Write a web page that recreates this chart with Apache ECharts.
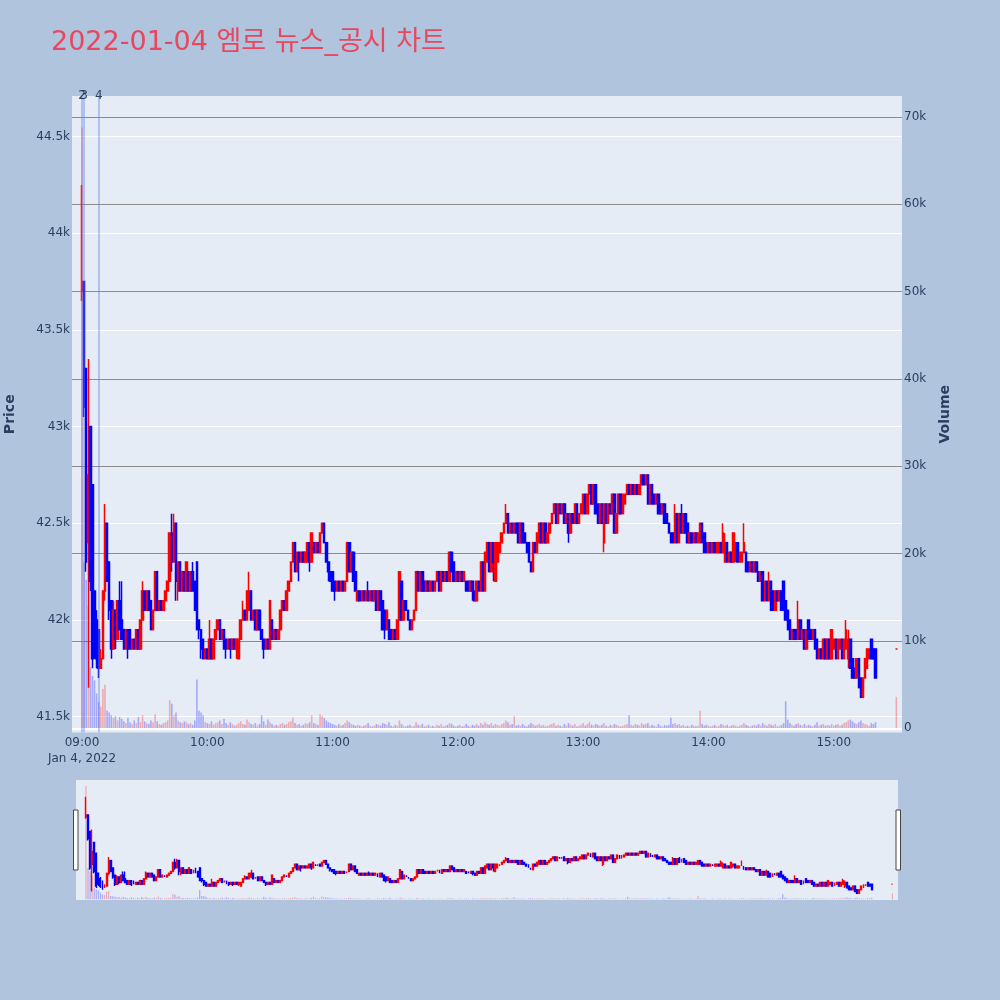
<!DOCTYPE html>
<html>
<head>
<meta charset="utf-8">
<script src="https://cdn.jsdelivr.net/npm/echarts@6/dist/echarts.min.js"></script>
<style>
html,body{margin:0;padding:0;background:#B0C4DE;}
#chart{width:1000px;height:1000px;}
</style>
</head>
<body>
<div id="chart"></div>
<script>
const titleText = '2022-01-04 엠로 뉴스_공시 차트';
const sessionStart = '09:00';
const continuousMinutes = 381;          // 09:00 .. 15:20
const closingAuctionTime = '15:30';
const xTickLabels = ['09:00','10:00','11:00','12:00','13:00','14:00','15:00'];
const firstDateLabel = 'Jan 4, 2022';
const newsMarkers = [
  {time:'09:00', label:'2'},
  {time:'09:01', label:'3'},
  {time:'09:08', label:'4'}
];

const opens = [
43700,43750,43300,42400,43000,42700,42150,42000,41950,41750,
41800,42150,42500,42300,42100,41850,42050,41900,42100,42000,
41950,41850,41950,41950,41850,41900,41850,41950,41850,42000,
42150,42050,42150,42100,41950,42050,42250,42050,42100,42050,
42100,42150,42200,42450,42300,42500,42150,42300,42150,42250,
42150,42250,42150,42250,42200,42300,42000,41950,41900,41800,
41850,41800,41900,41800,41900,41950,42000,41900,41950,41900,
41850,41900,41850,41900,41850,41800,41900,42000,42050,42000,
42050,42150,42000,42050,41950,42050,41950,41900,41850,41900,
41850,42000,41900,41950,41900,41950,42050,42100,42050,42150,
42200,42300,42400,42250,42350,42300,42350,42300,42300,42400,
42300,42400,42350,42400,42350,42450,42500,42400,42300,42250,
42250,42200,42150,42200,42150,42200,42150,42200,42400,42250,
42350,42250,42100,42150,42100,42150,42100,42150,42100,42150,
42100,42150,42050,42150,42100,42050,41950,42000,41950,41900,
41950,41900,42000,42200,42000,42100,42050,42000,41950,42000,
42050,42250,42150,42250,42200,42150,42200,42150,42200,42150,
42200,42250,42150,42250,42200,42250,42200,42350,42300,42200,
42250,42200,42250,42200,42200,42200,42150,42200,42150,42100,
42200,42150,42300,42150,42300,42400,42250,42400,42200,42300,
42350,42400,42450,42500,42550,42450,42500,42450,42500,42500,
42400,42500,42450,42400,42400,42300,42250,42400,42350,42400,
42500,42400,42500,42400,42450,42500,42550,42600,42500,42600,
42550,42600,42500,42550,42450,42550,42500,42600,42500,42550,
42550,42650,42550,42650,42700,42600,42700,42600,42500,42600,
42400,42600,42500,42600,42550,42650,42450,42550,42650,42550,
42600,42650,42700,42650,42700,42650,42700,42650,42700,42750,
42700,42750,42600,42700,42650,42600,42650,42600,42550,42600,
42550,42500,42450,42450,42400,42550,42400,42550,42450,42550,
42500,42400,42450,42400,42450,42400,42400,42500,42450,42400,
42350,42400,42350,42400,42350,42350,42400,42350,42300,42400,
42300,42350,42300,42350,42400,42300,42300,42350,42350,42300,
42250,42300,42250,42300,42250,42200,42250,42100,42200,42100,
42200,42150,42050,42150,42100,42150,42200,42100,42050,42000,
41900,41950,41950,41900,42000,41900,41950,41850,42000,41950,
41900,41950,41900,41800,41850,41800,41900,41800,41900,41800,
41850,41900,41800,41850,41900,41800,41850,41800,41900,41800,
41750,41700,41800,41700,41600,41700,41750,41800,41900,41850,41850,
41850];

const closes = [
43750,43100,42300,42750,42200,41800,41850,41800,41750,41800,
42150,42500,42200,42050,41850,42050,41900,42100,41950,41900,
41850,41950,41850,41850,41900,41850,41950,41850,42000,42150,
42050,42150,42050,41950,42050,42250,42050,42100,42050,42100,
42150,42200,42450,42300,42500,42200,42300,42150,42250,42150,
42300,42150,42250,42150,42050,41950,41950,41850,41800,41850,
41800,41900,41800,41900,41950,42000,41900,41950,41850,41850,
41900,41850,41900,41850,41900,41900,42000,42050,42000,42150,
42150,42000,42050,41950,42050,41950,41900,41850,41900,41850,
42100,41900,41950,41900,41950,42050,42100,42050,42150,42200,
42300,42400,42250,42350,42300,42350,42300,42350,42400,42300,
42450,42350,42400,42350,42450,42500,42400,42300,42250,42200,
42150,42150,42200,42150,42200,42150,42200,42400,42250,42350,
42200,42150,42150,42100,42150,42100,42150,42100,42150,42100,
42150,42050,42150,42050,41950,41950,42050,41900,41900,41950,
41900,42000,42250,42000,42100,42050,42000,41950,42000,42050,
42250,42150,42250,42150,42150,42200,42150,42200,42150,42200,
42250,42150,42250,42200,42250,42200,42350,42250,42200,42250,
42200,42250,42200,42250,42150,42150,42200,42150,42100,42200,
42150,42300,42150,42350,42400,42250,42400,42300,42400,42400,
42400,42450,42500,42550,42450,42500,42450,42500,42450,42400,
42500,42400,42400,42350,42300,42250,42400,42350,42450,42500,
42400,42500,42400,42450,42500,42550,42600,42500,42600,42550,
42600,42500,42550,42450,42550,42500,42600,42500,42550,42600,
42650,42550,42650,42700,42600,42700,42550,42500,42600,42500,
42600,42500,42600,42550,42650,42450,42550,42650,42550,42650,
42650,42700,42650,42700,42650,42700,42650,42700,42750,42700,
42750,42600,42700,42600,42600,42650,42550,42550,42600,42500,
42500,42450,42400,42400,42550,42400,42550,42450,42550,42450,
42400,42450,42400,42450,42400,42450,42500,42400,42350,42350,
42400,42350,42400,42350,42400,42400,42350,42450,42400,42300,
42350,42300,42450,42400,42300,42350,42350,42400,42250,42250,
42300,42250,42300,42250,42200,42250,42100,42200,42100,42200,
42050,42050,42150,42100,42150,42050,42050,42000,41950,41900,
41950,41900,41900,42000,41900,41950,41850,41950,41900,41900,
41950,41850,41800,41850,41800,41900,41800,41900,41800,41950,
41900,41800,41900,41900,41800,41900,41950,41900,41750,41700,
41700,41800,41650,41600,41700,41800,41850,41850,41800,41800,41700,
41850];

const lows = [
43650,43050,42250,41650,42150,41750,41800,41750,41700,41750,
41800,42100,42200,42000,41800,41850,41850,41900,41950,41900,
41850,41850,41800,41850,41850,41850,41850,41850,41850,42000,
42050,42050,42050,41950,41950,42050,42050,42050,42050,42050,
42100,42150,42200,42250,42300,42100,42100,42150,42150,42150,
42150,42150,42150,42150,42050,41950,41900,41800,41800,41800,
41800,41800,41800,41800,41900,41950,41900,41900,41850,41800,
41850,41800,41850,41850,41800,41800,41900,42000,42000,42000,
42050,42000,42000,41950,41950,41950,41900,41800,41850,41850,
41850,41900,41900,41900,41900,41950,42050,42050,42050,42150,
42200,42300,42250,42250,42200,42300,42300,42300,42300,42250,
42300,42350,42350,42350,42350,42450,42400,42300,42200,42200,
42150,42100,42150,42150,42150,42150,42150,42200,42250,42250,
42200,42150,42100,42100,42100,42100,42100,42100,42100,42100,
42100,42050,42050,42050,41950,41900,41950,41900,41900,41900,
41900,41900,42000,42000,42000,42050,42000,41950,41950,42000,
42050,42150,42150,42150,42150,42150,42150,42150,42150,42150,
42200,42150,42150,42200,42200,42200,42200,42250,42200,42200,
42200,42200,42200,42200,42150,42150,42150,42100,42100,42100,
42150,42150,42150,42150,42300,42250,42250,42200,42200,42300,
42350,42400,42450,42500,42450,42450,42450,42450,42450,42400,
42400,42400,42400,42350,42300,42250,42250,42350,42350,42400,
42400,42400,42400,42400,42450,42500,42550,42500,42500,42550,
42550,42500,42500,42400,42450,42500,42500,42500,42500,42550,
42550,42550,42550,42650,42600,42600,42550,42500,42500,42500,
42350,42500,42500,42550,42550,42450,42450,42550,42550,42550,
42600,42650,42650,42650,42650,42650,42650,42650,42700,42700,
42700,42600,42600,42600,42600,42600,42550,42550,42550,42500,
42500,42450,42400,42400,42400,42400,42400,42450,42450,42450,
42400,42400,42400,42400,42400,42400,42400,42400,42350,42350,
42350,42350,42350,42350,42350,42350,42350,42350,42300,42300,
42300,42300,42300,42300,42300,42300,42300,42350,42250,42250,
42250,42250,42250,42250,42200,42200,42100,42100,42100,42100,
42050,42050,42050,42100,42100,42050,42050,42000,41950,41900,
41900,41900,41900,41900,41900,41900,41850,41850,41900,41900,
41900,41850,41800,41800,41800,41800,41800,41800,41800,41800,
41850,41800,41800,41850,41800,41800,41850,41750,41750,41700,
41700,41700,41650,41600,41600,41700,41750,41800,41800,41800,41700,
41850];

const highs = [
44250,43750,43300,43350,43000,42700,42150,42050,41950,41850,
42150,42600,42500,42300,42100,42100,42050,42100,42200,42200,
41950,41950,41950,41950,41900,41900,41950,41950,42000,42200,
42150,42150,42150,42100,42050,42250,42250,42100,42100,42100,
42150,42200,42450,42550,42550,42500,42300,42300,42250,42250,
42300,42250,42250,42300,42200,42300,42000,41950,41900,41850,
41850,42000,41900,41900,41950,42000,42000,41950,41950,41900,
41900,41900,41900,41900,41900,41900,42000,42100,42050,42150,
42250,42150,42050,42050,42050,42050,41950,41900,41900,41900,
42100,42000,41950,41950,41950,42050,42100,42100,42150,42200,
42300,42400,42400,42350,42350,42350,42350,42350,42400,42400,
42450,42400,42400,42400,42450,42500,42500,42400,42300,42250,
42250,42200,42200,42200,42200,42200,42200,42400,42400,42350,
42350,42250,42150,42150,42150,42150,42150,42200,42150,42150,
42150,42150,42150,42150,42100,42050,42050,42000,41950,41950,
41950,42000,42250,42200,42100,42100,42050,42000,42000,42050,
42250,42250,42250,42250,42200,42200,42200,42200,42200,42200,
42250,42250,42250,42250,42250,42250,42350,42350,42300,42250,
42250,42250,42250,42250,42200,42200,42200,42200,42150,42200,
42200,42300,42300,42350,42400,42400,42400,42400,42400,42400,
42400,42450,42500,42600,42550,42500,42500,42500,42500,42500,
42500,42500,42450,42400,42400,42300,42400,42400,42450,42500,
42500,42500,42500,42450,42500,42550,42600,42600,42600,42600,
42600,42600,42550,42550,42550,42550,42600,42600,42550,42600,
42650,42650,42650,42700,42700,42700,42700,42600,42600,42600,
42600,42600,42600,42600,42650,42650,42550,42650,42650,42650,
42650,42700,42700,42700,42700,42700,42700,42700,42750,42750,
42750,42750,42700,42700,42650,42650,42650,42600,42600,42600,
42550,42500,42450,42450,42600,42550,42550,42600,42550,42550,
42500,42450,42450,42450,42450,42450,42500,42500,42450,42400,
42400,42400,42400,42400,42400,42400,42400,42500,42450,42400,
42350,42350,42450,42400,42400,42350,42350,42500,42350,42300,
42300,42300,42300,42300,42250,42250,42250,42200,42200,42250,
42200,42150,42150,42150,42150,42150,42200,42100,42050,42000,
41950,41950,41950,42100,42000,41950,41950,41950,42000,41950,
41950,41950,41900,41850,41850,41900,41900,41900,41900,41950,
41900,41900,41900,41900,41900,41900,42000,41950,41900,41800,
41750,41800,41800,41700,41700,41800,41850,41850,41900,41850,41850,
41850];

const volumes = [
68800,19000,17000,14000,7000,6000,5500,4000,3000,2500,
4500,5000,2000,1800,1500,1200,1400,900,1300,1100,
800,600,1200,700,500,900,600,1300,700,1500,
800,600,500,900,700,1600,800,500,400,600,
700,900,3200,2800,1500,1800,900,700,600,800,
700,500,600,400,900,5600,2000,1800,1500,700,
600,500,800,400,600,700,900,500,1100,600,
400,700,500,300,400,600,800,500,400,1000,
700,500,400,600,300,500,1500,800,400,1000,
700,500,300,400,300,500,600,400,500,700,
800,1200,600,400,500,300,400,600,500,700,
1500,600,500,400,1600,1400,1200,900,700,600,
500,400,300,500,300,400,600,900,700,500,
400,300,400,300,200,300,400,600,300,200,
300,500,400,300,600,500,400,700,300,200,
400,300,900,500,300,200,300,400,200,300,
700,400,300,500,200,300,400,200,300,200,
400,300,500,200,300,400,600,500,300,200,
300,400,200,300,500,300,200,400,300,500,
300,600,400,700,500,400,600,300,500,400,
300,500,600,900,700,400,500,1400,300,400,
300,500,300,200,400,600,500,300,400,500,
300,400,200,300,400,500,600,300,400,300,
200,500,300,600,400,300,500,200,300,400,
600,300,500,700,400,300,500,400,300,400,
600,300,200,400,300,500,400,300,200,300,
400,500,1500,400,300,500,400,300,600,400,
500,600,300,400,300,200,500,300,200,400,
300,400,1200,500,600,400,500,300,400,200,
300,200,400,300,200,300,2000,500,300,400,
300,200,300,400,200,300,500,400,300,400,
200,300,400,300,200,300,400,600,400,300,
200,300,400,300,500,300,600,400,300,500,
400,300,500,200,300,400,600,3100,1000,600,
400,300,500,600,400,300,500,300,400,300,
200,400,700,300,400,500,300,400,300,500,
300,400,500,300,400,600,700,900,1000,800,
600,500,700,900,600,500,400,300,600,500,700,
3600];

// ---- helpers ----
const pad = n => String(n).padStart(2, '0');
function ts(hhmm) {
  const p = hhmm.split(':').map(Number);
  return Date.UTC(2022, 0, 4, p[0], p[1]);
}
const startTs = ts(sessionStart);
const times = [];
for (let i = 0; i < continuousMinutes; i++) times.push(startTs + i * 60000);
times.push(ts(closingAuctionTime));

const candleData = times.map((t, i) => [t, opens[i], closes[i], lows[i], highs[i]]);
const upVol = 'rgba(255,0,0,0.28)';
const downVol = 'rgba(0,0,255,0.28)';
const volData = times.map((t, i) => ({
  value: [t, volumes[i]],
  itemStyle: {color: closes[i] >= opens[i] ? upVol : downVol}
}));

const xMin = ts('08:55') + 12000;
const xMax = ts('15:32') + 42000;
const priceMin = 41418, priceMax = 44710;
const volMin = -480, volMax = 72400;

const font = 'DejaVu Sans, Noto Sans CJK KR, sans-serif';
const axisColor = '#2a3f5f';

function fmtX(val) {
  const d = new Date(val);
  const s = pad(d.getUTCHours()) + ':' + pad(d.getUTCMinutes());
  return s === xTickLabels[0] ? s + '\n' + firstDateLabel : s;
}

const candleStyle = {
  color: '#ff0000', color0: '#0000ff',
  borderColor: '#ff0000', borderColor0: '#0000ff', borderColorDoji: '#ff0000',
  borderWidth: 1.5
};

const chart = echarts.init(document.getElementById('chart'), null, {renderer: 'canvas'});
chart.setOption({
  backgroundColor: '#B0C4DE',
  animation: false,
  textStyle: {fontFamily: font},
  title: {
    text: titleText, left: 46, top: 21,
    textStyle: {color: '#E8485F', fontSize: 27, fontWeight: 'normal', fontFamily: font, lineHeight: 34}
  },
  grid: [
    {left: 72, right: 98, top: 96, bottom: 267.5, show: true, backgroundColor: '#E5ECF6', borderWidth: 0, outerBoundsMode: 'none', containLabel: false},
    {left: 76, right: 102, top: 780, bottom: 100, show: true, backgroundColor: '#E5ECF6', borderWidth: 0, outerBoundsMode: 'none', containLabel: false}
  ],
  xAxis: [
    {
      type: 'value', gridIndex: 0, min: xMin, max: xMax,
      axisLine: {show: false}, axisTick: {show: false}, splitLine: {show: false},
      axisLabel: {
        customValues: xTickLabels.map(ts), formatter: fmtX,
        color: axisColor, fontSize: 12, fontFamily: font, margin: 2, lineHeight: 16,
        hideOverlap: false
      }
    },
    {type: 'value', gridIndex: 1, min: xMin, max: xMax, show: false, splitLine: {show: false}}
  ],
  yAxis: [
    {
      type: 'value', gridIndex: 0, min: priceMin, max: priceMax, position: 'left',
      name: 'Price', nameLocation: 'middle', nameGap: 55, nameRotate: 90,
      nameTextStyle: {color: axisColor, fontSize: 14, fontWeight: 'bold', fontFamily: font},
      axisLine: {show: false}, axisTick: {show: false},
      splitLine: {show: true, showMinLine: false, showMaxLine: false, lineStyle: {color: '#ffffff', width: 1}},
      axisLabel: {
        color: axisColor, fontSize: 12, fontFamily: font, margin: 2,
        showMinLabel: false, showMaxLabel: false,
        formatter: v => (v / 1000) + 'k'
      }
    },
    {
      type: 'value', gridIndex: 0, min: volMin, max: volMax, position: 'right',
      name: 'Volume', nameLocation: 'middle', nameGap: 36, nameRotate: 90,
      nameTextStyle: {color: axisColor, fontSize: 14, fontWeight: 'bold', fontFamily: font},
      axisLine: {show: false}, axisTick: {show: false},
      splitLine: {show: true, showMinLine: false, showMaxLine: false, lineStyle: {color: '#8c8c8c', width: 1.2}},
      axisLabel: {
        color: axisColor, fontSize: 12, fontFamily: font, margin: 2,
        showMinLabel: false, showMaxLabel: false,
        formatter: v => v === 0 ? '0' : (v / 1000) + 'k'
      }
    },
    {type: 'value', gridIndex: 1, min: priceMin, max: priceMax, show: false, splitLine: {show: false}},
    {type: 'value', gridIndex: 1, min: volMin, max: volMax, show: false, splitLine: {show: false}}
  ],
  series: [
    {
      type: 'bar', name: 'Volume', xAxisIndex: 0, yAxisIndex: 1,
      data: volData, barWidth: 1.6, silent: true,
      markLine: {
        silent: true, symbol: ['none', 'none'],
        label: {show: false},
        lineStyle: {color: '#ffffff', width: 2, type: 'solid'},
        data: [{yAxis: 0}]
      }
    },
    {
      type: 'candlestick', name: 'Price', xAxisIndex: 0, yAxisIndex: 0,
      data: candleData, encode: {x: 0, y: [1, 2, 3, 4]},
      barWidth: 2, itemStyle: candleStyle, silent: true,
      markLine: {
        silent: true, symbol: ['none', 'none'],
        lineStyle: {color: 'rgba(100,130,230,0.4)', width: 2, type: 'solid'},
        label: {show: true, position: 'end', formatter: '{b}', color: axisColor, fontSize: 12, fontFamily: font, distance: -6},
        data: newsMarkers.map(n => ({xAxis: ts(n.time), name: n.label}))
      }
    },
    {
      type: 'bar', xAxisIndex: 1, yAxisIndex: 3,
      data: volData, barWidth: 1.2, silent: true
    },
    {
      type: 'candlestick', xAxisIndex: 1, yAxisIndex: 2,
      data: candleData, encode: {x: 0, y: [1, 2, 3, 4]},
      barWidth: 1.4, itemStyle: Object.assign({}, candleStyle, {borderWidth: 1.4}), silent: true
    }
  ],
  graphic: [
    {type: 'rect', shape: {x: 73.5, y: 810, width: 4.5, height: 60}, style: {fill: '#ffffff', stroke: '#444444', lineWidth: 1}, z: 100},
    {type: 'rect', shape: {x: 896, y: 810, width: 4.5, height: 60}, style: {fill: '#ffffff', stroke: '#444444', lineWidth: 1}, z: 100}
  ]
});
</script>
</body>
</html>
